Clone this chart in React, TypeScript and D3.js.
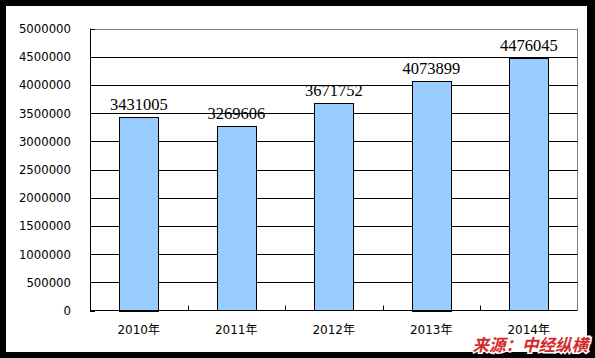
import React from "react";
import * as d3 from "d3";

const categories = ["2010年", "2011年", "2012年", "2013年", "2014年"];
const values = [3431005, 3269606, 3671752, 4073899, 4476045];
const yTicks = [0, 500000, 1000000, 1500000, 2000000, 2500000, 3000000, 3500000, 4000000, 4500000, 5000000];

const W = 595;
const H = 358;
const M = { left: 90, right: 577.5, top: 28.5, bottom: 310.5 };

export default function App() {
  const x = d3.scaleBand<string>().domain(categories).range([M.left, M.right]).paddingInner(0).paddingOuter(0);
  const y = d3.scaleLinear().domain([0, 5000000]).range([M.bottom, M.top]);
  const bw = x.bandwidth() * 0.4;
  const sans = "'DejaVu Sans', 'Noto Sans CJK SC', sans-serif";
  return (
    <div style={{ position: "absolute", left: 0, top: 0, width: W, height: H }}>
      <svg width={W} height={H} style={{ display: "block" }}>
        <rect x={0} y={0} width={W} height={H} fill="#000" />
        <rect x={6} y={6} width={581} height={346} fill="#fff" />
        {/* plot border (gray) */}
        <line x1={M.left} x2={M.right} y1={Math.round(y(5000000)) + 0.5} y2={Math.round(y(5000000)) + 0.5} stroke="#808080" />
        <line x1={M.right} x2={M.right} y1={M.top} y2={M.bottom} stroke="#808080" />
        {/* gridlines */}
        {yTicks.filter((t) => t > 0 && t < 5000000).map((t) => (
          <line key={t} x1={M.left} x2={M.right} y1={Math.round(y(t)) + 0.5} y2={Math.round(y(t)) + 0.5} stroke="#000" />
        ))}
        {/* bars */}
        {values.map((v, i) => {
          const cx = (x(categories[i]) as number) + x.bandwidth() / 2;
          return (
            <g key={i}>
              <rect x={Math.round(cx - bw / 2) + 0.5} y={Math.round(y(v)) + 0.5} width={Math.round(bw)} height={Math.round(M.bottom - y(v))} fill="#99ccff" stroke="#000" />
              <text x={cx} y={y(v) - 7} textAnchor="middle" fontFamily="'Liberation Serif', serif" fontSize={16.5} fill="#000">{v}</text>
              <text x={cx} y={334} textAnchor="middle" fontFamily={sans} fontSize={12} fill="#000">{categories[i]}</text>
            </g>
          );
        })}
        {/* axes */}
        <line x1={M.left + 0.5} x2={M.left + 0.5} y1={M.top} y2={M.bottom} stroke="#000" />
        <line x1={M.left} x2={M.right} y1={M.bottom} y2={M.bottom} stroke="#000" />
        {yTicks.map((t) => (
          <g key={t}>
            <line x1={M.left} x2={M.left + 5} y1={Math.round(y(t)) + 0.5} y2={Math.round(y(t)) + 0.5} stroke="#000" />
            <text x={71} y={y(t) + 4.5} textAnchor="end" fontFamily={sans} fontSize={11.7} fill="#000">{t}</text>
          </g>
        ))}
        {categories.slice(1).map((c) => (
          <line key={c} x1={Math.round(x(c) as number) + 0.5} x2={Math.round(x(c) as number) + 0.5} y1={M.bottom - 5} y2={M.bottom} stroke="#000" />
        ))}
        {/* watermark */}
        <text x={588} y={351} textAnchor="end" fontFamily="'Noto Sans CJK SC', sans-serif" fontSize={16.5} fontWeight="bold" fontStyle="italic" fill="#d42a2a" stroke="#fff" strokeWidth={3} paintOrder="stroke" transform="skewX(0)">来源：中经纵横</text>
      </svg>
    </div>
  );
}
